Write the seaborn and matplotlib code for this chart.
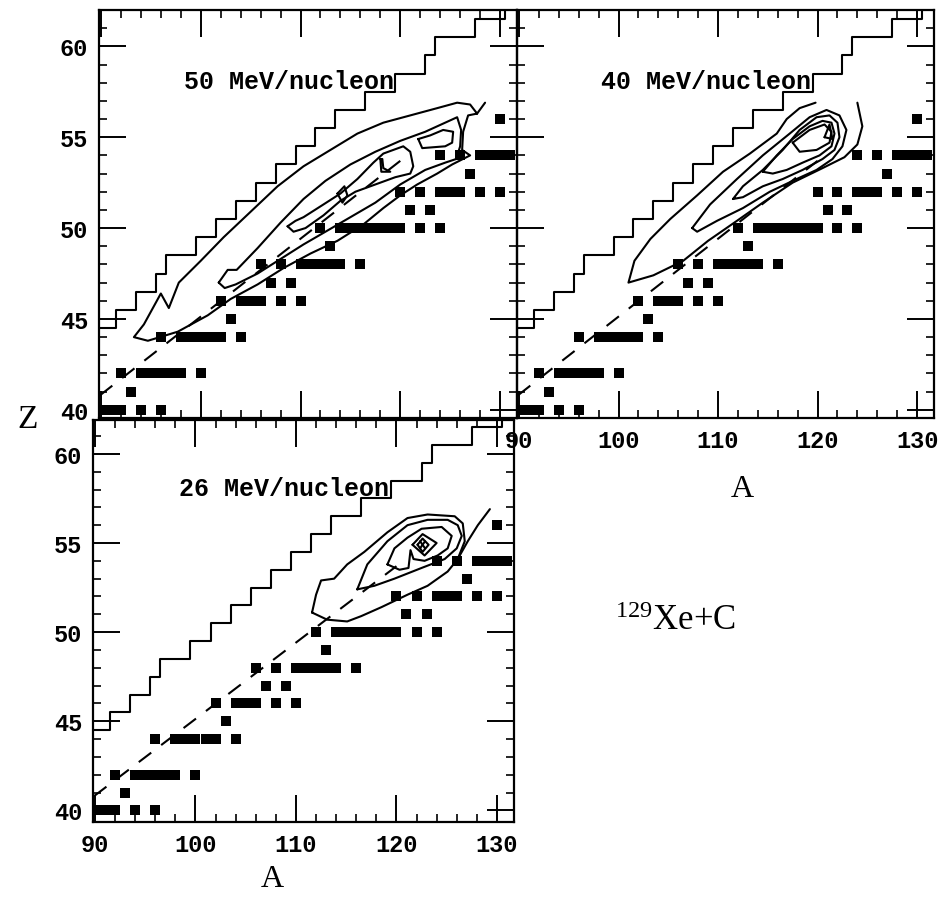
import matplotlib
matplotlib.use("Agg")
import matplotlib.pyplot as plt
import numpy as np
import pandas as pd
import seaborn as sns

# ---------------------------------------------------------------- data
# stable isotopes shown as black squares: one A-list per element Z
stable_Z = [40, 41, 42, 44, 45, 46, 47, 48, 49, 50, 51, 52, 53, 54, 56]
stable_A = [
    [90, 91, 92, 94, 96],
    [93],
    [92, 94, 95, 96, 97, 98, 100],
    [96, 98, 99, 100, 101, 102, 104],
    [103],
    [102, 104, 105, 106, 108, 110],
    [107, 109],
    [106, 108, 110, 111, 112, 113, 114, 116],
    [113],
    [112, 114, 115, 116, 117, 118, 119, 120, 122, 124],
    [121, 123],
    [120, 122, 124, 125, 126, 128, 130],
    [127],
    [124, 126, 128, 129, 130, 131],
    [130],
]

# limit of the (A, Z) region: lowest-A cell edge for each Z row
stair_Z = list(range(45, 63))
stair_A = [91.5, 93.5, 95.5, 96.5, 99.5, 101.5, 103.5, 105.5, 107.5,
           109.5, 111.5, 113.5, 116.5, 119.5, 122.5, 123.5, 127.5, 130.5]

# dashed reference line (end points)
ridge_A = [89.9, 120.0]
ridge_Z = [40.8, 53.7]

# yield contours, (A, Z) vertices
e50_contours = [
    [(128.5, 56.9), (127.7, 56.3), (127.0, 56.8), (125.7, 56.9), (123.7, 56.6),
     (121.0, 56.2), (118.3, 55.8), (115.7, 55.2), (113.0, 54.3), (110.3, 53.4),
     (107.7, 52.3), (105.0, 50.9), (102.3, 49.5), (100.0, 48.2), (97.8, 47.0),
     (96.8, 45.6), (96.0, 46.4), (94.3, 44.7), (93.3, 44.0), (94.7, 43.8),
     (97.7, 44.3), (100.7, 45.2), (103.0, 46.1), (105.7, 46.9), (108.3, 47.8),
     (111.0, 48.6), (113.7, 49.3), (116.3, 50.2), (118.3, 51.1), (120.0, 51.8),
     (121.7, 52.4), (123.7, 53.0), (125.2, 53.5), (127.0, 54.0), (126.2, 54.3),
     (126.3, 55.3), (126.8, 56.2), (127.7, 56.3)],
    [(101.8, 47.0), (102.7, 47.7), (103.6, 47.7), (105.7, 48.9), (108.0, 50.3),
     (110.3, 51.6), (112.5, 52.6), (115.0, 53.5), (117.5, 54.2), (120.0, 54.8),
     (122.5, 55.3), (124.5, 55.8), (125.7, 56.1), (126.1, 55.4), (126.0, 54.5),
     (125.6, 53.8), (124.5, 53.6), (122.5, 53.2), (120.0, 52.4), (117.5, 51.4),
     (115.0, 50.6), (112.5, 49.8), (110.3, 49.1), (108.0, 48.3), (105.7, 47.5),
     (103.5, 46.9), (102.4, 46.7), (101.8, 47.0)],
    [(108.7, 50.1), (109.5, 50.4), (110.3, 50.6), (112.3, 51.3), (114.0, 51.9),
     (115.7, 52.7), (117.3, 53.6), (118.3, 54.1), (120.3, 54.5), (121.0, 54.2),
     (121.3, 53.4), (121.0, 53.0), (119.5, 52.8), (117.5, 52.4), (115.5, 52.0),
     (114.0, 51.5), (112.3, 50.7), (110.5, 50.0), (109.3, 49.8), (108.7, 50.1)],
    [(113.7, 51.9), (114.4, 52.3), (114.7, 51.8), (114.2, 51.4), (113.7, 51.9)],
    [(118.0, 53.8), (118.1, 53.1), (119.0, 53.1), (118.3, 53.3), (118.2, 53.8),
     (118.0, 53.8)],
    [(121.8, 54.9), (122.2, 54.4), (124.5, 54.5), (125.2, 54.7), (125.3, 55.3),
     (124.3, 55.4), (123.0, 55.1), (121.8, 54.9)],
]

e40_contours = [
    [(119.8, 56.9), (118.2, 56.6), (116.9, 56.0), (115.9, 55.2), (113.2, 54.1),
     (110.5, 53.1), (107.9, 51.8), (105.2, 50.5), (103.2, 49.4), (101.6, 48.2),
     (101.0, 47.0), (103.5, 47.4), (106.5, 48.2), (109.0, 49.3), (111.9, 50.4),
     (114.5, 51.4), (117.5, 52.5), (120.5, 53.3), (122.7, 53.9), (124.0, 54.6),
     (124.5, 55.6), (124.0, 56.9)],
    [(107.4, 50.0), (109.2, 51.3), (111.9, 52.7), (114.5, 54.0), (117.2, 55.2),
     (119.2, 56.1), (120.9, 56.5), (122.2, 56.2), (122.9, 55.4), (122.5, 54.5),
     (121.5, 53.8), (119.9, 53.2), (117.9, 52.7), (115.2, 52.0), (112.5, 51.1),
     (109.9, 50.4), (107.9, 49.8), (107.4, 50.0)],
    [(111.5, 51.6), (112.5, 52.3), (114.5, 53.2), (116.5, 54.3), (118.2, 55.4),
     (119.9, 56.1), (121.2, 56.2), (122.0, 55.8), (122.2, 55.0), (121.7, 54.3),
     (120.5, 53.8), (118.5, 53.2), (116.5, 52.7), (114.5, 52.3), (112.5, 51.7),
     (111.5, 51.6)],
    [(114.5, 53.1), (115.9, 54.0), (117.5, 54.9), (119.2, 55.6), (120.5, 55.9),
     (121.4, 55.8), (121.7, 55.2), (121.4, 54.5), (120.2, 54.0), (118.5, 53.6),
     (116.9, 53.2), (115.5, 53.0), (114.5, 53.1)],
    [(117.5, 54.7), (119.2, 55.4), (120.7, 55.7), (121.4, 55.3), (121.2, 54.7),
     (119.9, 54.3), (118.2, 54.2), (117.5, 54.7)],
    [(120.7, 55.0), (121.2, 55.7), (121.5, 54.9), (120.7, 55.0)],
]

e26_contours = [
    [(111.6, 51.1), (113.1, 50.7), (115.1, 50.6), (116.5, 50.9), (118.5, 51.4),
     (121.1, 52.1), (123.1, 52.6), (125.1, 53.4), (126.1, 54.1), (126.8, 55.1),
     (126.6, 56.1), (125.8, 56.5), (123.1, 56.6), (121.1, 56.4), (119.1, 55.6),
     (116.8, 54.5), (115.1, 53.8), (113.8, 53.0), (112.5, 52.9), (112.0, 52.1),
     (111.6, 51.1)],
    [(126.1, 54.1), (127.1, 55.1), (128.1, 56.0), (129.3, 56.9)],
    [(116.1, 52.4), (117.1, 53.8), (119.1, 55.1), (121.1, 56.0), (123.1, 56.3),
     (125.1, 56.3), (126.1, 56.0), (126.5, 55.4), (126.0, 54.7), (124.8, 54.1),
     (122.5, 53.6), (119.8, 53.0), (117.8, 52.6), (116.1, 52.4)],
    [(119.1, 53.8), (119.8, 54.7), (121.1, 55.3), (122.5, 55.8), (124.5, 55.9),
     (125.5, 55.4), (125.1, 54.7), (124.1, 54.3), (122.8, 54.0), (121.7, 54.1),
     (121.4, 54.6), (121.2, 53.6), (120.3, 53.5), (119.1, 53.8)],
    [(121.6, 54.9), (122.6, 55.5), (124.0, 55.0), (122.8, 54.3), (121.6, 54.9)],
    [(122.1, 54.9), (122.6, 55.25), (123.2, 54.9), (122.6, 54.5), (122.1, 54.9)],
    [(122.35, 54.7), (122.85, 55.1)],
    [(122.35, 55.1), (122.85, 54.7)],
]

energies = ["50 MeV/nucleon", "40 MeV/nucleon", "26 MeV/nucleon"]

x_major = [90, 100, 110, 120, 130]
x_minor = [92, 94, 96, 98, 102, 104, 106, 108, 112, 114, 116, 118,
           122, 124, 126, 128]
y_major = [40, 45, 50, 55, 60]
y_minor = [41, 42, 43, 44, 46, 47, 48, 49, 51, 52, 53, 54,
           56, 57, 58, 59, 61]

# ---------------------------------------------------------------- style
sns.set_theme(style="white")
plt.rcParams["font.family"] = ["Liberation Mono", "DejaVu Sans"]
plt.rcParams["mathtext.fontset"] = "custom"
plt.rcParams["mathtext.rm"] = "Liberation Serif"
plt.rcParams["mathtext.it"] = "Liberation Serif:italic"
plt.rcParams["mathtext.bf"] = "Liberation Serif:bold"

INK = "black"
LW = 1.5

stable_df = pd.DataFrame(
    [(a, z) for z, alist in zip(stable_Z, stable_A) for a in alist],
    columns=["A", "Z"],
)

# staircase vertices built from the row edges
st_pts = [(88.0, stair_Z[0] - 0.5)]
for z, a in zip(stair_Z, stair_A):
    st_pts.append((a, z - 0.5))
    st_pts.append((a, z + 0.5))
stair_df = pd.DataFrame(st_pts, columns=["A", "Z"])


def contour_frame(contours):
    rows = []
    for cid, c in enumerate(contours):
        for k, (a, z) in enumerate(c):
            rows.append((cid, k, a, z))
    return pd.DataFrame(rows, columns=["cid", "k", "A", "Z"])


fig = plt.figure(figsize=(9.42, 9.03), dpi=100)
fig.patch.set_facecolor("white")
W, H = 942.0, 903.0


def box(l, t, r, b):
    return [l / W, 1 - b / H, (r - l) / W, (b - t) / H]


ax50 = fig.add_axes(box(99, 11, 517, 419))
ax40 = fig.add_axes(box(517, 11, 934, 419))
ax26 = fig.add_axes(box(93, 421, 514, 823))

panels = [
    (ax50, e50_contours, energies[0], (39.55, 62.0), False, True),
    (ax40, e40_contours, energies[1], (39.55, 62.0), True, False),
    (ax26, e26_contours, energies[2], (39.35, 61.9), True, True),
]

for ax, contours, label, ylim, show_x, show_y in panels:
    ax.patch.set_visible(False)
    # region boundary
    sns.lineplot(data=stair_df, x="A", y="Z", sort=False, estimator=None,
                 color=INK, lw=LW, ax=ax)
    # yield contours
    sns.lineplot(data=contour_frame(contours), x="A", y="Z", units="cid",
                 sort=False, estimator=None, color=INK, lw=LW, ax=ax)
    # dashed line
    sns.lineplot(x=ridge_A, y=ridge_Z, sort=False, estimator=None, color=INK,
                 lw=LW, linestyle=(0, (7.5, 6)), ax=ax)
    # stable isotopes
    sns.scatterplot(data=stable_df, x="A", y="Z", marker="s", s=46,
                    color=INK, edgecolor=INK, linewidth=0, ax=ax, zorder=5)

    ax.text(108.8, 58.1, label, ha="center", va="center", fontsize=18,
            fontweight="bold", family=["Liberation Mono"], color=INK)

    ax.set_xticks(x_major)
    ax.set_xticks(x_minor, minor=True)
    ax.set_yticks(y_major)
    ax.set_yticks(y_minor, minor=True)
    ax.set_xlim(89.8, 131.7)
    ax.set_ylim(*ylim)
    ax.tick_params(which="both", direction="in", top=True, right=True,
                   bottom=True, left=True, colors=INK)
    ax.tick_params(which="major", length=19.5, width=1.4, pad=8,
                   labelsize=17)
    ax.tick_params(which="minor", length=6, width=1.2)
    ax.tick_params(labelbottom=show_x, labelleft=show_y)
    for t in ax.get_xticklabels() + ax.get_yticklabels():
        t.set_fontweight("bold")
        t.set_family(["Liberation Mono"])
    ax.set_xlabel("")
    ax.set_ylabel("")
    for s in ax.spines.values():
        s.set_color(INK)
        s.set_linewidth(1.6)
        s.set_visible(True)
    ax.grid(False)
    if ax.get_legend() is not None:
        ax.get_legend().remove()

serif = ["Liberation Serif", "DejaVu Serif"]
fig.text(28 / W, 1 - 420 / H, "Z", ha="center", va="center", fontsize=24,
         family=serif, color=INK)
fig.text(272 / W, 1 - 880 / H, "A", ha="center", va="center", fontsize=23,
         family=serif, color=INK)
fig.text(742 / W, 1 - 490 / H, "A", ha="center", va="center", fontsize=23,
         family=serif, color=INK)
fig.text(675 / W, 1 - 630 / H, r"$^{129}$Xe+C", ha="center", va="baseline",
         fontsize=25, family=serif, color=INK)

fig.savefig("out.png", dpi=100, facecolor="white")
